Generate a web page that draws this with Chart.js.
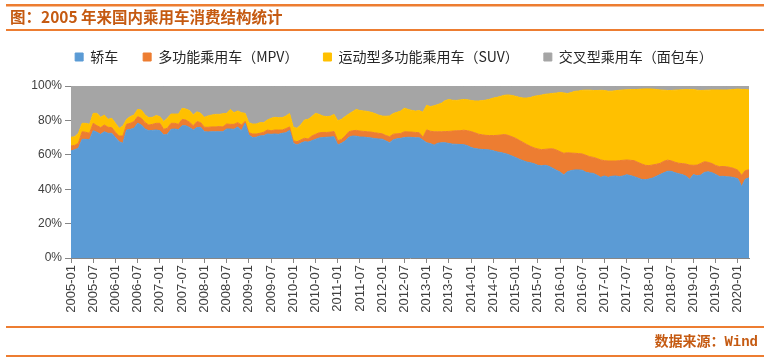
<!DOCTYPE html>
<html>
<head>
<meta charset="utf-8">
<script src="https://cdn.jsdelivr.net/npm/chart.js@4.4.1/dist/chart.umd.min.js"></script>
<style>
  html, body { margin: 0; padding: 0; background: #fff; }
  #wrap { width: 770px; height: 359px; }
</style>
</head>
<body>
<div id="wrap"><canvas id="chart" width="770" height="359"></canvas></div>
<script>
// monthly, 2005-01 .. 2020-04
const startYear = 2005;
const monthCount = 184;
const months = [];
for (let i = 0; i < monthCount; i++) {
    const y = startYear + Math.floor(i / 12);
    const m = (i % 12) + 1;
    months.push(y + '-' + (m < 10 ? '0' + m : m));
}

const seriesNames = ['轿车', '多功能乘用车（MPV）', '运动型多功能乘用车（SUV）', '交叉型乘用车（面包车）'];

// shares in %
const sedan = [
    62.2, 63.0, 63.8, 69.0, 69.0, 68.8, 74.0, 73.1, 71.9, 73.4, 72.5, 72.5,
    70.0, 67.6, 66.7, 74.4, 74.8, 75.4, 78.3, 77.3, 75.0, 74.0, 74.2, 74.4,
    74.0, 71.5, 71.9, 74.8, 75.0, 74.6, 76.9, 76.9, 75.8, 74.4, 75.8, 76.0,
    73.4, 73.3, 73.4, 73.4, 73.4, 73.4, 75.0, 75.0, 74.8, 76.2, 74.0, 78.3,
    71.5, 70.0, 70.2, 71.0, 71.1, 72.1, 71.9, 72.1, 71.9, 72.5, 72.8, 74.2,
    66.7, 65.7, 66.7, 67.6, 67.4, 68.2, 69.0, 69.8, 70.0, 70.2, 70.3, 70.5,
    65.7, 66.7, 68.0, 70.2, 70.9, 70.8, 70.3, 70.3, 70.0, 69.8, 69.4, 69.2,
    69.1, 68.0, 67.0, 68.8, 69.3, 69.6, 70.0, 70.2, 70.1, 69.9, 69.9, 68.5,
    67.0, 66.5, 65.6, 66.7, 67.0, 67.0, 66.6, 66.2, 66.1, 66.0, 65.9, 65.3,
    64.2, 63.6, 63.3, 63.1, 63.0, 62.8, 62.3, 61.7, 61.3, 60.8, 60.2, 59.3,
    58.4, 57.4, 56.6, 55.8, 55.4, 54.8, 53.9, 53.6, 53.9, 53.3, 52.2, 51.0,
    50.0, 48.3, 50.2, 50.8, 51.2, 51.2, 51.0, 49.8, 49.4, 49.2, 48.1, 46.9,
    47.7, 46.9, 47.5, 47.7, 47.3, 47.7, 48.4, 47.9, 47.3, 46.5, 45.7, 45.5,
    45.9, 46.5, 47.5, 48.5, 49.5, 50.4, 50.4, 49.6, 49.0, 48.5, 47.6, 45.8,
    48.5, 47.8, 48.2, 49.8, 50.1, 49.6, 48.6, 47.4, 47.5, 47.2, 47.1, 46.7,
    46.1, 41.5, 45.8, 46.6
];
const mpv = [
    2.9, 2.5, 2.9, 4.4, 4.1, 3.7, 4.3, 3.8, 3.9, 3.9, 3.5, 3.3,
    3.1, 3.3, 4.2, 3.3, 3.5, 3.9, 3.9, 3.9, 3.7, 3.3, 3.5, 3.9,
    4.3, 3.3, 3.5, 3.5, 3.3, 3.1, 3.7, 3.3, 3.1, 2.5, 3.5, 2.7,
    2.6, 2.7, 2.8, 2.8, 3.0, 2.8, 2.9, 2.7, 2.9, 2.5, 3.3, 1.2,
    1.4, 2.1, 1.9, 1.5, 2.0, 2.3, 2.1, 2.3, 2.5, 1.9, 2.4, 2.0,
    1.5, 1.9, 1.9, 2.0, 1.8, 2.7, 2.9, 3.0, 3.0, 2.8, 2.9, 3.0,
    2.5, 2.2, 2.9, 3.2, 3.1, 3.4, 3.5, 3.3, 3.4, 3.4, 3.4, 3.3,
    3.1, 3.2, 3.5, 3.2, 2.9, 2.8, 3.4, 3.1, 3.1, 3.1, 2.9, 1.7,
    7.5, 7.2, 7.8, 6.7, 6.4, 6.5, 7.0, 7.6, 7.9, 8.0, 8.4, 8.7,
    9.3, 9.2, 8.7, 8.5, 8.3, 8.4, 8.9, 9.6, 10.2, 11.0, 11.1, 11.2,
    11.2, 11.0, 10.6, 10.2, 9.5, 9.2, 9.5, 9.4, 9.3, 10.1, 11.3, 11.8,
    11.8, 12.6, 11.0, 10.2, 9.7, 9.5, 9.5, 9.9, 9.5, 9.3, 9.7, 10.1,
    8.9, 9.5, 8.9, 8.7, 9.3, 9.1, 8.6, 8.9, 9.3, 9.1, 9.0, 8.4,
    7.8, 7.6, 7.0, 6.5, 6.7, 6.5, 6.1, 6.1, 6.1, 6.4, 7.0, 8.2,
    5.4, 6.2, 6.8, 6.2, 5.5, 5.3, 5.2, 5.7, 5.7, 5.8, 5.5, 5.3,
    4.9, 6.6, 5.0, 4.7
];
const suv = [
    5.1, 5.0, 5.8, 4.9, 5.2, 5.2, 5.8, 7.2, 6.0, 5.8, 4.6, 5.4,
    5.2, 4.5, 5.8, 2.9, 3.9, 3.8, 4.2, 4.8, 4.4, 4.3, 4.1, 4.5,
    3.9, 4.5, 5.8, 5.4, 5.4, 6.0, 6.4, 6.4, 6.8, 6.2, 5.7, 5.4,
    5.8, 6.6, 6.9, 7.3, 7.1, 7.7, 6.2, 8.7, 6.8, 6.8, 7.2, 4.6,
    5.8, 5.8, 5.8, 6.2, 5.6, 5.8, 7.2, 7.4, 7.2, 7.2, 7.3, 7.8,
    7.8, 7.8, 8.7, 10.6, 11.4, 11.3, 12.2, 10.7, 9.5, 9.2, 9.2, 10.0,
    11.6, 11.7, 11.3, 10.3, 11.1, 12.2, 11.9, 11.9, 11.8, 11.5, 11.2, 10.6,
    10.3, 11.2, 12.1, 12.0, 12.5, 13.1, 13.7, 13.1, 12.6, 12.4, 12.9, 14.6,
    14.3, 14.3, 15.1, 15.8, 16.6, 18.0, 18.5, 17.9, 17.6, 17.9, 17.9, 18.0,
    18.1, 18.5, 19.3, 19.9, 20.5, 21.1, 21.8, 22.1, 22.5, 22.8, 23.5, 24.0,
    24.4, 25.0, 25.8, 27.0, 28.4, 30.0, 31.0, 31.7, 32.0, 32.0, 32.2, 33.1,
    34.4, 35.1, 34.4, 35.2, 36.0, 36.4, 37.0, 37.9, 38.7, 38.9, 39.6, 40.5,
    40.8, 40.6, 40.6, 40.9, 40.9, 40.9, 40.8, 41.1, 41.3, 42.4, 43.5, 44.4,
    44.6, 44.1, 43.5, 42.7, 41.4, 40.5, 40.9, 41.9, 42.6, 42.9, 43.3, 43.9,
    44.0, 43.6, 42.4, 41.5, 42.0, 42.8, 43.9, 44.6, 44.5, 44.7, 45.2, 46.0,
    47.2, 49.9, 47.2, 46.4
];
const crossover = [
    29.8, 29.5, 27.5, 21.7, 21.7, 22.3, 15.9, 15.9, 18.2, 16.9, 19.4, 18.8,
    21.7, 24.6, 23.3, 19.4, 17.8, 16.9, 13.6, 14.0, 16.9, 18.4, 18.2, 17.2,
    17.8, 20.7, 18.8, 16.3, 16.3, 16.3, 13.0, 13.4, 14.3, 16.9, 15.0, 15.9,
    18.2, 17.4, 16.9, 16.5, 16.5, 16.1, 15.9, 13.6, 15.5, 14.5, 15.5, 15.9,
    21.3, 22.1, 22.1, 21.3, 21.3, 19.8, 18.8, 18.2, 18.4, 18.4, 17.5, 16.0,
    24.0, 24.6, 22.7, 19.8, 19.4, 17.8, 15.9, 16.5, 17.5, 17.8, 17.6, 16.5,
    20.2, 19.4, 17.8, 16.3, 14.9, 13.6, 14.3, 14.5, 14.8, 15.3, 16.0, 16.9,
    17.5, 17.6, 17.4, 16.0, 15.3, 14.5, 12.9, 13.6, 14.2, 14.6, 14.3, 15.2,
    11.2, 12.0, 11.5, 10.8, 10.0, 8.5, 7.9, 8.3, 8.4, 8.1, 7.8, 8.0,
    8.4, 8.7, 8.7, 8.5, 8.2, 7.7, 7.0, 6.6, 6.0, 5.4, 5.2, 5.5,
    6.0, 6.6, 7.0, 7.0, 6.7, 6.0, 5.6, 5.3, 4.8, 4.6, 4.3, 4.1,
    3.8, 4.0, 4.4, 3.8, 3.1, 2.9, 2.5, 2.4, 2.4, 2.6, 2.6, 2.5,
    2.6, 3.0, 3.0, 2.7, 2.5, 2.3, 2.2, 2.1, 2.1, 2.0, 1.8, 1.7,
    1.7, 1.8, 2.0, 2.3, 2.4, 2.6, 2.6, 2.4, 2.3, 2.2, 2.1, 2.1,
    2.1, 2.4, 2.6, 2.5, 2.4, 2.3, 2.3, 2.3, 2.3, 2.3, 2.2, 2.0,
    1.8, 2.0, 2.0, 2.3
];
const yTicks = [0, 10, 20, 30, 40, 50, 60, 70, 80, 90, 100];

const colors = ['#5B9BD5', '#ED7D31', '#FFC000', '#A5A5A5'];
const titleText = '图：2005 年来国内乘用车消费结构统计';
const sourceText = '数据来源：Wind';

function makeSet(label, data, color, fill) {
    return {
        label: label,
        data: data,
        backgroundColor: color,
        borderColor: color,
        borderWidth: 1,
        pointRadius: 0,
        tension: 0,
        fill: fill
    };
}

// title bar, orange rules and source line
const frame = {
    id: 'frame',
    beforeDraw(chart) {
        const ctx = chart.ctx;
        ctx.save();
        ctx.fillStyle = '#fff';
        ctx.fillRect(0, 0, chart.width, chart.height);
        ctx.fillStyle = '#ED7D31';
        ctx.fillRect(6, 4, 758, 2.5);
        ctx.fillRect(6, 29, 758, 2);
        ctx.fillRect(6, 326, 758, 2);
        ctx.fillRect(6, 355, 758, 2);
        ctx.fillStyle = '#C55A11';
        ctx.textBaseline = 'middle';
        ctx.font = 'bold 15.5px "Noto Sans CJK SC"';
        ctx.fillText(titleText, 10, 17);
        ctx.textAlign = 'right';
        ctx.font = 'bold 14px "Liberation Mono", "Noto Sans CJK SC"';
        ctx.fillText(sourceText, 758, 342);
        ctx.restore();
    }
};

// give the legend a fixed band so the plot starts where it does in the picture
const legendBand = {
    id: 'legendBand',
    beforeUpdate(chart) {
        const lg = chart.legend;
        if (lg && !lg._banded) {
            const fit = lg.fit;
            lg.fit = function () {
                fit.call(this);
                this.height = 61;
            };
            lg._banded = true;
        }
    }
};

new Chart(document.getElementById('chart'), {
    type: 'line',
    data: {
        labels: months,
        datasets: [
            makeSet(seriesNames[0], sedan, colors[0], 'origin'),
            makeSet(seriesNames[1], mpv, colors[1], '-1'),
            makeSet(seriesNames[2], suv, colors[2], '-1'),
            makeSet(seriesNames[3], crossover, colors[3], '-1')
        ]
    },
    options: {
        responsive: false,
        animation: false,
        layout: { padding: { left: 18, right: 0, top: 25, bottom: 40 } },
        plugins: {
            legend: {
                position: 'top',
                labels: {
                    boxWidth: 8,
                    boxHeight: 8,
                    padding: 25,
                    color: '#262626',
                    font: { family: '"Noto Sans CJK SC"', size: 14 }
                }
            },
            tooltip: { enabled: false }
        },
        scales: {
            x: {
                stacked: true,
                offset: false,
                grid: { drawOnChartArea: false, drawTicks: true, tickLength: 5, color: '#868686' },
                border: { color: '#868686' },
                ticks: {
                    autoSkip: false,
                    maxRotation: 90,
                    minRotation: 90,
                    padding: 2,
                    color: '#404040',
                    font: { family: '"Liberation Sans"', size: 13 },
                    callback: (v, i) => (i % 6 === 0 ? months[i] : null)
                },
                afterFit: s => { s.height = 61; }
            },
            y: {
                stacked: true,
                min: 0,
                max: 100,
                grid: { drawOnChartArea: false, drawTicks: true, tickLength: 6, color: '#868686' },
                border: { color: '#868686' },
                afterBuildTicks: s => { s.ticks = yTicks.map(v => ({ value: v })); },
                ticks: {
                    padding: 3,
                    color: '#404040',
                    font: { family: '"Liberation Sans"', size: 12 },
                    callback: v => v + '%'
                },
                afterFit: s => { s.width = 53; }
            },
            yr: {
                position: 'right',
                display: true,
                grid: { display: false },
                border: { display: false },
                ticks: { display: false },
                afterFit: s => { s.width = 21; }
            }
        }
    },
    plugins: [frame, legendBand]
});
</script>
</body>
</html>
